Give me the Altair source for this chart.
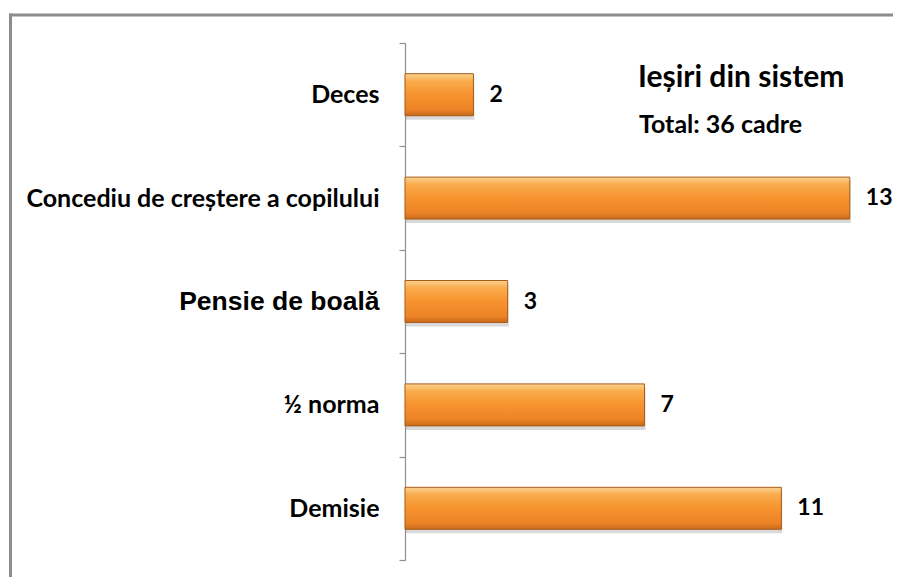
import altair as alt
import pandas as pd

categories = ["Deces", "Concediu de creștere a copilului", "Pensie de boală", "½ norma", "Demisie"]
values = [2, 13, 3, 7, 11]
title_text = "Ieșiri din sistem"
subtitle_text = "Total: 36 cadre"

df = pd.DataFrame({"cat": categories, "val": values})
one = pd.DataFrame({"a": [0]})

W, H = 479, 517

xs = alt.Scale(domain=[0, 14])
ys = alt.Scale(domain=categories, paddingInner=0, paddingOuter=0)

grad = alt.Gradient(
    gradient="linear", x1=0, y1=0, x2=0, y2=1,
    stops=[
        alt.GradientStop(offset=0, color="#fbd390"),
        alt.GradientStop(offset=0.18, color="#f9ab4c"),
        alt.GradientStop(offset=0.5, color="#f7932f"),
        alt.GradientStop(offset=0.85, color="#ec8326"),
        alt.GradientStop(offset=1, color="#c86a1c"),
    ],
)

base = alt.Chart(df)
X = alt.X("val:Q", scale=xs, axis=None)
Y = alt.Y(
    "cat:N", scale=ys, sort=None, title=None,
    axis=alt.Axis(
        domainColor="#8f8f8f", domainWidth=1.2,
        tickColor="#8f8f8f", tickWidth=1.2, tickSize=6, tickBand="extent",
        labelPadding=20, labelColor="#000000", labelLimit=400,
        labelFont={"condition": {"test": "datum.value === 'Pensie de boală'", "value": "Liberation Sans"}, "value": "Lato"},
        labelFontSize={"condition": {"test": "datum.value === 'Pensie de boală'", "value": 26.5}, "value": 25},
        labelFontWeight="bold",
    ),
)

BAR_BAND = 0.406

shadow = base.mark_bar(color="#000000", opacity=0.15, yOffset=4, xOffset=1, height={"band": BAR_BAND}).encode(x=X, y=Y)

bars = base.mark_bar(color=grad, stroke="#a85c18", strokeWidth=1, height={"band": BAR_BAND}).encode(x=X, y=Y)

labels = base.mark_text(
    align="left", baseline="middle", dx=16, font="Lato", fontWeight="bold", fontSize=23, color="#000000"
).encode(x=X, y=Y, text="val:Q")

title = alt.Chart(pd.DataFrame({"t": [title_text]})).mark_text(
    align="left", baseline="alphabetic", font="Lato", fontWeight="bold", fontSize=30, color="#000000"
).encode(x=alt.value(233), y=alt.value(44), text="t:N")

subtitle = alt.Chart(pd.DataFrame({"t": [subtitle_text]})).mark_text(
    align="left", baseline="alphabetic", font="Lato", fontWeight="bold", fontSize=25, color="#000000"
).encode(x=alt.value(234), y=alt.value(90), text="t:N")

top_border = alt.Chart(one).mark_rule(color="#8c8c8c", strokeWidth=3).encode(
    x=alt.value(-396), x2=alt.value(W + 9), y=alt.value(-28)
)
left_border = alt.Chart(one).mark_rule(color="#8c8c8c", strokeWidth=3).encode(
    x=alt.value(-394.5), y=alt.value(-29.5), y2=alt.value(H + 17)
)

chart = alt.layer(top_border, left_border, shadow, bars, labels, title, subtitle).properties(
    width=W, height=H,
    autosize=alt.AutoSizeParams(type="none"),
    padding={"left": 397, "top": 35, "right": 9, "bottom": 17},
    background="#ffffff",
).configure_view(stroke=None)

chart.save("out.html", embed_options={"renderer": "svg", "actions": False})
